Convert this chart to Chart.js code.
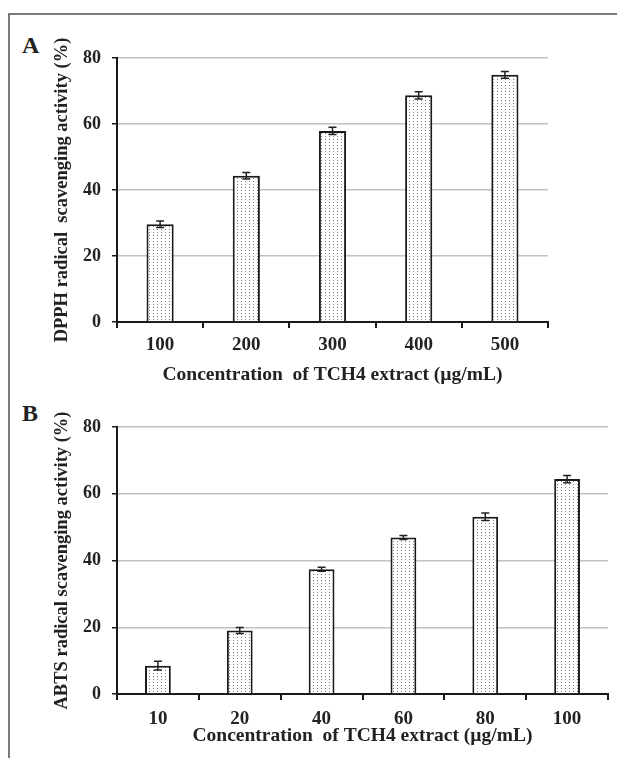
<!DOCTYPE html>
<html>
<head>
<meta charset="utf-8">
<script src="https://cdn.jsdelivr.net/npm/chart.js@4.4.1/dist/chart.umd.min.js"></script>
<style>
    body { margin: 0; background: #fff; width: 617px; height: 758px; position: relative; overflow: hidden; }
    .frame { position: absolute; background: #7a7a7a; }
    .panel { position: absolute; font: bold 24px "Liberation Serif", "Times New Roman", serif; color: #222; }
    canvas { position: absolute; left: 0; }
</style>
</head>
<body>
<div class="frame" style="left:9px;top:13px;width:608px;height:2px"></div>
<div class="frame" style="left:8px;top:13px;width:2px;height:745px"></div>
<div class="panel" style="left:22px;top:32px">A</div>
<div class="panel" style="left:22px;top:400px">B</div>
<canvas id="chartA" width="617" height="390" style="top:0"></canvas>
<canvas id="chartB" width="617" height="368" style="top:390px"></canvas>
<script>
// panel A - DPPH
const concA = ["100", "200", "300", "400", "500"];
const dpphValues = [29.6, 44.3, 57.9, 68.7, 74.9];
const dpphErrors = [1.0, 1.0, 1.1, 1.1, 1.0];

// panel B - ABTS
const concB = ["10", "20", "40", "60", "80", "100"];
const abtsValues = [8.5, 19.0, 37.4, 46.9, 53.1, 64.4];
const abtsErrors = [1.3, 0.9, 0.6, 0.6, 1.1, 1.1];

const yMin = 0;
const yMax = 80;
const yStep = 20;

const xTitle = "Concentration  of TCH4 extract (µg/mL)";
const serif = "'Liberation Serif', 'Times New Roman', serif";

function dotPattern() {
    const c = document.createElement("canvas");
    c.width = 4;
    c.height = 3;
    const g = c.getContext("2d");
    g.fillStyle = "#ffffff";
    g.fillRect(0, 0, 4, 3);
    g.fillStyle = "#7a7a7a";
    g.fillRect(1, 1, 1, 1);
    return g.createPattern(c, "repeat");
}

const errorBars = {
    id: "errorBars",
    afterDatasetsDraw(chart, args, opts) {
        const ctx = chart.ctx;
        const y = chart.scales.y;
        const values = chart.data.datasets[0].data;
        ctx.save();
        ctx.strokeStyle = "#222";
        ctx.lineWidth = 1.5;
        chart.getDatasetMeta(0).data.forEach(function (bar, i) {
            const top = y.getPixelForValue(values[i] + opts.errors[i]);
            const bot = y.getPixelForValue(values[i] - opts.errors[i]);
            ctx.beginPath();
            ctx.moveTo(bar.x, top);
            ctx.lineTo(bar.x, bot);
            ctx.moveTo(bar.x - 4, top);
            ctx.lineTo(bar.x + 4, top);
            ctx.moveTo(bar.x - 4, bot);
            ctx.lineTo(bar.x + 4, bot);
            ctx.stroke();
        });
        ctx.restore();
    },
};

function makeChart(id, labels, values, errors, yTitle, box) {
    return new Chart(document.getElementById(id), {
        type: "bar",
        data: {
            labels: labels,
            datasets: [
                {
                    data: values,
                    backgroundColor: dotPattern(),
                    borderColor: "#1a1a1a",
                    borderWidth: 2,
                    borderSkipped: "start",
                    categoryPercentage: 1,
                    barPercentage: 0.315,
                },
            ],
        },
        options: {
            responsive: false,
            animation: false,
            layout: {
                padding: { left: 0, right: box.right, top: box.top, bottom: 0 },
            },
            plugins: {
                legend: { display: false },
                tooltip: { enabled: false },
                errorBars: { errors: errors },
            },
            scales: {
                x: {
                    afterFit: function (s) { s.height = box.xHeight; },
                    grid: {
                        drawOnChartArea: false,
                        drawTicks: true,
                        tickLength: 6,
                        tickColor: "#1a1a1a",
                        lineWidth: 2,
                    },
                    border: { display: true, color: "#1a1a1a", width: 2 },
                    ticks: {
                        color: "#222",
                        padding: box.xTickPad,
                        font: { family: serif, size: 19, weight: "bold" },
                    },
                    title: {
                        display: true,
                        text: xTitle,
                        color: "#222",
                        padding: { top: 0, bottom: box.xTitlePad },
                        font: { family: serif, size: 19.5, weight: "bold" },
                    },
                },
                y: {
                    min: yMin,
                    max: yMax,
                    afterFit: function (s) { s.width = 117; },
                    grid: {
                        color: "#c2c2c2",
                        lineWidth: 1.5,
                        tickColor: "#1a1a1a",
                        tickLength: 5,
                    },
                    border: { display: true, color: "#1a1a1a", width: 2 },
                    ticks: {
                        stepSize: yStep,
                        color: "#222",
                        padding: 11,
                        font: { family: serif, size: 18, weight: "bold" },
                    },
                    title: {
                        display: true,
                        text: yTitle,
                        color: "#222",
                        padding: { top: 51, bottom: 0 },
                        font: { family: serif, size: 18.5, weight: "bold" },
                    },
                },
            },
        },
        plugins: [errorBars],
    });
}

makeChart("chartA", concA, dpphValues, dpphErrors, "DPPH radical  scavenging activity (%)",
    { right: 69, top: 58, xHeight: 68, xTickPad: 6, xTitlePad: 3 });
makeChart("chartB", concB, abtsValues, abtsErrors, "ABTS radical scavenging activity (%)",
    { right: 9, top: 37, xHeight: 64, xTickPad: 8, xTitlePad: 10 });
</script>
</body>
</html>
